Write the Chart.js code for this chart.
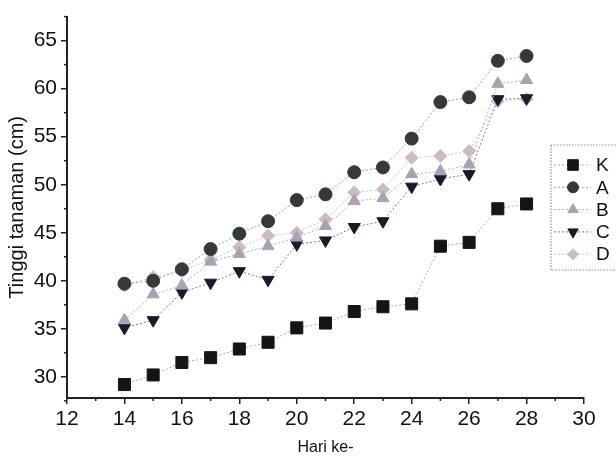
<!DOCTYPE html>
<html>
<head>
<meta charset="utf-8">
<script src="https://cdn.jsdelivr.net/npm/chart.js@4.4.0/dist/chart.umd.min.js"></script>
<style>
    html, body { margin: 0; padding: 0; background: #fff; }
    #wrap { width: 616px; height: 457px; }
</style>
</head>
<body>
<div id="wrap"><canvas id="grafico"></canvas></div>
<script>
const hari = [14, 15, 16, 17, 18, 19, 20, 21, 22, 23, 24, 25, 26, 27, 28];
const tinggiK = [29.2, 30.2, 31.5, 32.0, 32.9, 33.6, 35.1, 35.6, 36.8, 37.3, 37.6, 43.6, 44.0, 47.5, 48.0];
const tinggiA = [39.7, 40.0, 41.2, 43.3, 44.9, 46.2, 48.4, 49.0, 51.3, 51.8, 54.8, 58.6, 59.1, 62.9, 63.4];
const tinggiB = [35.9, 38.6, 39.5, 42.0, 42.8, 43.6, 44.5, 45.7, 48.3, 48.6, 51.1, 51.4, 52.1, 60.5, 60.9];
const tinggiC = [35.1, 35.9, 38.8, 39.8, 41.0, 40.1, 43.8, 44.2, 45.6, 46.2, 49.8, 50.6, 51.1, 58.9, 59.0];
const tinggiD = [39.5, 40.4, 41.0, 42.2, 43.5, 44.7, 45.0, 46.4, 49.2, 49.5, 52.8, 53.0, 53.5, 58.7, 58.9];
const xTicks = [12, 14, 16, 18, 20, 22, 24, 26, 28, 30];
const yTicks = [30, 35, 40, 45, 50, 55, 60, 65];

const fontName = "'Liberation Sans', Arial, sans-serif";

const toPoints = (vals) => hari.map((h, i) => ({ x: h, y: vals[i] }));

const makeSet = (label, vals, style, color, line, radius, rotation) => ({
    label: label,
    data: toPoints(vals),
    pointStyle: style,
    pointRadius: radius,
    pointRotation: rotation || 0,
    backgroundColor: color,
    pointBorderColor: color,
    pointBorderWidth: 1,
    borderColor: line,
    borderWidth: 1,
    borderDash: [2, 2],
    tension: 0
});

// ticks kecil di antara label
const minorTicks = {
    id: 'minorTicks',
    afterDraw(chart) {
        const ctx = chart.ctx;
        const xs = chart.scales.x, ys = chart.scales.y;
        ctx.save();
        ctx.strokeStyle = '#222';
        ctx.lineWidth = 1.5;
        for (let v = 13; v < 30; v += 2) {
            const px = xs.getPixelForValue(v);
            ctx.beginPath();
            ctx.moveTo(px, ys.bottom);
            ctx.lineTo(px, ys.bottom + 3);
            ctx.stroke();
        }
        for (let v = 27.5; v <= 67.5; v += 5) {
            const py = ys.getPixelForValue(v);
            ctx.beginPath();
            ctx.moveTo(xs.left, py);
            ctx.lineTo(xs.left - 3, py);
            ctx.stroke();
        }
        ctx.restore();
    }
};

// legenda dengan kotak bertitik
const boxLegend = {
    id: 'boxLegend',
    afterDraw(chart) {
        const ctx = chart.ctx;
        ctx.save();
        ctx.setLineDash([1.5, 1.5]);
        ctx.strokeStyle = '#9a8a90';
        ctx.lineWidth = 1.2;
        ctx.fillStyle = '#fff';
        ctx.fillRect(551, 145, 80, 125);
        ctx.strokeRect(551, 145, 80, 125);
        chart.data.datasets.forEach((ds, i) => {
            const y = 165 + i * 22.3;
            ctx.setLineDash([2, 2]);
            ctx.strokeStyle = ds.borderColor;
            ctx.lineWidth = 1;
            ctx.beginPath();
            ctx.moveTo(554, y);
            ctx.lineTo(591, y);
            ctx.stroke();
            ctx.setLineDash([]);
            ctx.fillStyle = ds.backgroundColor;
            ctx.strokeStyle = ds.pointBorderColor;
            Chart.helpers.drawPoint(ctx, {
                pointStyle: ds.pointStyle,
                radius: ds.pointRadius - 1,
                rotation: ds.pointRotation,
                borderWidth: 1
            }, 573, y);
            ctx.fillStyle = '#111';
            ctx.font = '19px ' + fontName;
            ctx.textBaseline = 'middle';
            ctx.textAlign = 'left';
            ctx.fillText(ds.label, 596, y + 1);
        });
        ctx.restore();
    }
};

const createChart = (id) => {
    const ctx = document.getElementById(id);
    new Chart(ctx, {
        type: 'line',
        data: {
            datasets: [
                makeSet('K', tinggiK, 'rect', '#151515', '#b8a4a6', 8.5),
                makeSet('A', tinggiA, 'circle', '#36393a', '#93a6b8', 6.5),
                makeSet('B', tinggiB, 'triangle', '#aaa2b2', '#b6aebf', 7),
                makeSet('C', tinggiC, 'triangle', '#181c2a', '#7c7c8c', 7, 180),
                makeSet('D', tinggiD, 'rectRot', '#cbbcc4', '#d4bcc6', 6.5)
            ]
        },
        options: {
            responsive: true,
            maintainAspectRatio: false,
            animation: false,
            layout: {
                padding: { top: 15, right: 32, left: 0, bottom: 0 }
            },
            plugins: {
                legend: { display: false },
                tooltip: { enabled: false }
            },
            scales: {
                x: {
                    type: 'linear',
                    min: 12,
                    max: 30,
                    afterBuildTicks: (s) => { s.ticks = xTicks.map(v => ({ value: v })); },
                    afterFit: (s) => { s.height = 59; },
                    grid: { drawOnChartArea: false, color: '#222', tickLength: 6, lineWidth: 1.5 },
                    border: { color: '#222', width: 2 },
                    ticks: {
                        color: '#111',
                        padding: 3,
                        maxRotation: 0,
                        font: { family: fontName, size: 21 }
                    },
                    title: {
                        display: true,
                        text: 'Hari ke-',
                        color: '#111',
                        padding: { top: 0, bottom: 0 },
                        font: { family: fontName, size: 16 }
                    }
                },
                y: {
                    min: 27.8,
                    max: 67.5,
                    afterBuildTicks: (s) => { s.ticks = yTicks.map(v => ({ value: v })); },
                    afterFit: (s) => { s.width = 67; },
                    grid: { drawOnChartArea: false, color: '#222', tickLength: 6, lineWidth: 1.5 },
                    border: { color: '#222', width: 2 },
                    ticks: {
                        color: '#111',
                        padding: 4,
                        font: { family: fontName, size: 21 }
                    },
                    title: {
                        display: true,
                        text: 'Tinggi tanaman (cm)',
                        color: '#111',
                        padding: { top: 5, bottom: 0 },
                        font: { family: fontName, size: 20 }
                    }
                }
            }
        },
        plugins: [minorTicks, boxLegend]
    });
}

createChart('grafico');
</script>
</body>
</html>
